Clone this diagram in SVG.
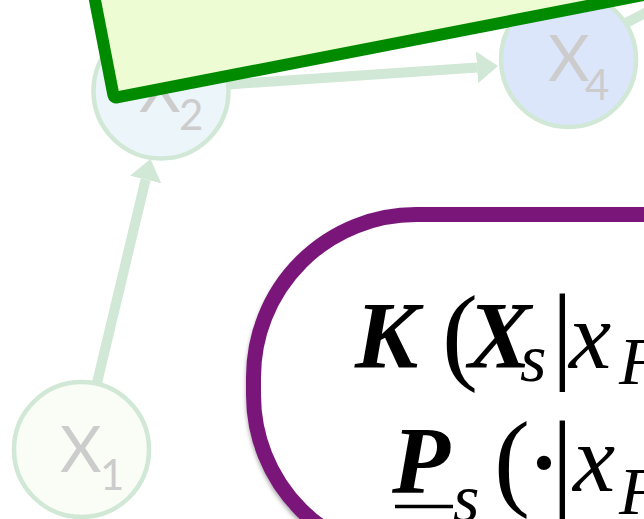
<svg xmlns="http://www.w3.org/2000/svg" width="644" height="519" viewBox="0 0 644 519">
  <style>
    .node { stroke: #d0e8d5; stroke-width: 4.5; }
    .lbl { font-family: Lato, "Open Sans", sans-serif; fill: #cccccc; }
    .big { font-size: 64px; }
    .sub { font-size: 42px; }
    .conn { stroke: #d0e8d5; stroke-width: 10; fill: none; }
    .mb { font-family: "Liberation Serif", serif; font-style: italic; font-weight: bold; font-size: 95px; fill: #000; }
    .mi { font-family: "Liberation Serif", serif; font-style: italic; font-size: 95px; fill: #000; }
    .ms { font-family: "Liberation Serif", serif; font-style: italic; font-size: 68px; fill: #000; }
    .mp { font-family: "Liberation Serif", serif; font-size: 108px; fill: #000; }
  </style>
  <defs>
    <marker id="ah" markerUnits="userSpaceOnUse" markerWidth="22" markerHeight="34" viewBox="0 0 22 34" refX="0" refY="16" orient="auto">
      <path d="M0,0 L21,16 L0,32 z" fill="#d0e8d5"/>
    </marker>
    <filter id="sh" x="-20%" y="-20%" width="140%" height="140%">
      <feDropShadow dx="0" dy="3" stdDeviation="2" flood-color="#000" flood-opacity="0.35"/>
    </filter>
  </defs>
  <rect width="644" height="519" fill="#ffffff"/>

  <g id="connectors">
    <line class="conn" x1="97" y1="383" x2="145.6" y2="179.5" marker-end="url(#ah)"/>
    <line class="conn" x1="228" y1="84.5" x2="477" y2="67.4" marker-end="url(#ah)"/>
    <line class="conn" x1="624" y1="24" x2="680" y2="-5"/>
  </g>

  <g id="X1">
    <circle class="node" cx="81.5" cy="449.5" r="67.5" fill="#fafdf6"/>
    <text class="lbl big" x="60" y="472">X</text>
    <text class="lbl sub" x="100" y="490">1</text>
  </g>
  <g id="X2">
    <circle class="node" cx="161" cy="91" r="67.5" fill="#ecf5f9"/>
    <text class="lbl big" x="139" y="112">X</text>
    <text class="lbl sub" x="179" y="130">2</text>
  </g>
  <g id="X4">
    <circle class="node" cx="568.5" cy="59.5" r="67.5" fill="#dbe6fb"/>
    <text class="lbl big" x="548" y="81">X</text>
    <text class="lbl sub" x="585" y="100">4</text>
  </g>

  <g id="greenbox">
    <g transform="translate(114,98) rotate(-11)">
      <rect x="0" y="-320" width="720" height="320" rx="3" fill="#edfcd2" stroke="#008a00" stroke-width="12" stroke-linejoin="round"/>
    </g>
  </g>

  <g id="formula">
    <rect x="253.5" y="214.5" width="600" height="343" rx="162.5" ry="162.5" fill="#ffffff" stroke="#7a187a" stroke-width="15" filter="url(#sh)"/>
    <text class="mb" x="355" y="368">K</text>
    <text class="mp" x="442" y="370">(</text>
    <text class="mb" x="468" y="368">X</text>
    <text class="ms" x="520" y="381">s</text>
    <text class="mp" x="551.5" y="369">|</text>
    <text class="mi" x="569" y="368">x</text>
    <text class="ms" x="619" y="384">F</text>

    <text class="mb" x="392" y="493">P</text>
    <line x1="395" y1="506.5" x2="453" y2="506.5" stroke="#000" stroke-width="3.5"/>
    <text class="ms" x="453" y="521">s</text>
    <text class="mp" x="494" y="496">(</text>
    <text class="mp" x="524" y="503" style="font-size:120px">·</text>
    <text class="mp" x="551.5" y="496">|</text>
    <text class="mi" x="573" y="491">x</text>
    <text class="ms" x="619" y="514">F</text>
  </g>
</svg>
